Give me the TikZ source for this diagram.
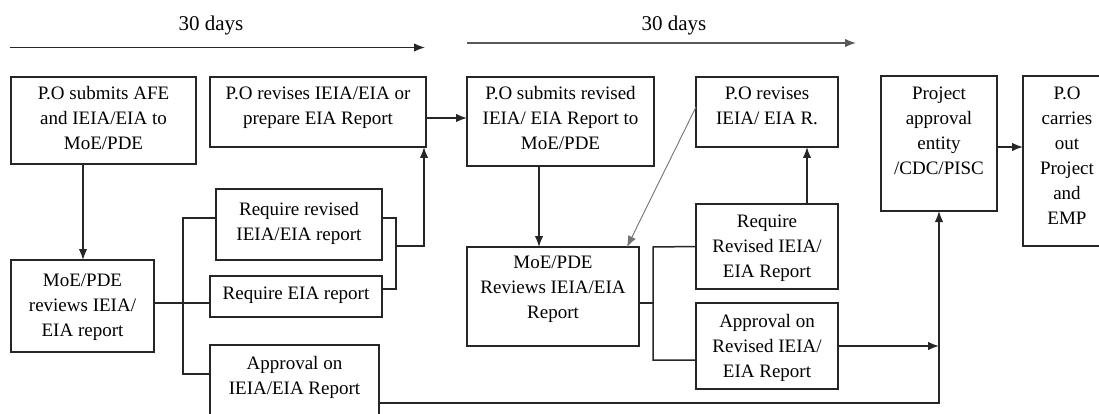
\documentclass[tikz,border=0pt]{standalone}
\usepackage{fontspec}
\setmainfont{Liberation Serif}
\usetikzlibrary{arrows.meta,calc}
\newcommand\mkbox[5]{\node[box, minimum width={#4-#2}, minimum height={#5-#3}] (#1) at ({(#2+#4)/2},{(#3+#5)/2}) {};}
\begin{document}
\begin{tikzpicture}[x=1pt,y=-1pt,
  box/.style={draw=black!85, line width=1.6pt, inner sep=0pt, outer sep=0pt, rectangle},
  txt/.style={font=\fontsize{19}{25}\selectfont, align=center, inner sep=0pt, anchor=north},
  lbl/.style={font=\fontsize{21}{25}\selectfont, inner sep=0pt},
  conn/.style={draw=black!85, line width=1.5pt},
  arr/.style={conn, -{Latex[length=11pt,width=8.5pt]}},
  thin/.style={draw=black!55, line width=0.9pt, -{Latex[length=11pt,width=8.5pt]}}]
\useasboundingbox (0,0) rectangle (1099,414);
\clip (0,0) rectangle (1099,414);
% boxes
\mkbox{A}{11}{77}{196}{164}
\mkbox{B}{210}{77}{426}{147}
\mkbox{C}{467}{77}{654}{166}
\mkbox{D}{696}{77}{838}{147}
\mkbox{E}{881}{76}{997}{211}
\mkbox{F}{1023}{76}{1111}{246}
\mkbox{G}{11}{260}{154}{352}
\mkbox{H}{216}{189}{382}{260}
\mkbox{I}{210}{276}{382}{317}
\mkbox{J}{210}{345}{379}{440}
\mkbox{K}{467}{247}{639}{346}
\mkbox{L}{696}{204}{838}{289}
\mkbox{M}{696}{303}{838}{389}
% texts
\node[txt] (At) at ($(A.north)+(0,9.5)$) {P.O submits AFE\\and IEIA/EIA to\\MoE/PDE};
\node[txt] (Bt) at ($(B.north)+(0,9.5)$) {P.O revises IEIA/EIA or\\prepare EIA Report};
\node[txt] (Ct) at ($(C.north)+(0,9.5)$) {P.O submits revised\\IEIA/ EIA Report to\\MoE/PDE};
\node[txt] (Dt) at ($(D.north)+(0,9.5)$) {P.O revises\\IEIA/ EIA R.};
\node[txt] (Et) at ($(E.north)+(0,10.5)$) {Project\\approval\\entity\\/CDC/PISC};
\node[txt] (Ft) at ($(F.north)+(0,10.5)$) {P.O\\carries\\out\\Project\\and\\EMP};
\node[txt] (Gt) at ($(G.north)+(0,13.5)$) {MoE/PDE\\reviews IEIA/\\EIA report};
\node[txt] (Ht) at ($(H.north)+(0,13.5)$) {Require revised\\IEIA/EIA report};
\node[txt] (It) at ($(I.north)+(0,10.5)$) {Require EIA report};
\node[txt] (Jt) at ($(J.north)+(0,11.5)$) {Approval on\\IEIA/EIA Report};
\node[txt] (Kt) at ($(K.north)+(0,8.5)$) {MoE/PDE\\Reviews IEIA/EIA\\Report};
\node[txt] (Lt) at ($(L.north)+(0,10.5)$) {Require\\Revised IEIA/\\EIA Report};
\node[txt] (Mt) at ($(M.north)+(0,11.5)$) {Approval on\\Revised IEIA/\\EIA Report};
% top timeline arrows
\coordinate (t1s) at (10,47.5);
\coordinate (t1e) at (425,47.5);
\coordinate (t2s) at (467,43);
\coordinate (t2e) at (856,43);
\draw[arr, line width=1.6pt] (t1s) -- (t1e);
\draw[arr, line width=1.6pt, draw=black!65] (t2s) -- (t2e);
\node[lbl] (d1) at (211,25) {30 days};
\node[lbl] (d2) at (674,25) {30 days};
% helper coordinates
\coordinate (xa) at (83,0);
\coordinate (y303) at (0,303);
\coordinate (br1) at (183,218);
\coordinate (br2) at (183,374);
\coordinate (rr1) at (396,218);
\coordinate (rr2) at (396,289);
\coordinate (rr3) at (396,246);
\coordinate (y118) at (0,118);
\coordinate (xc) at (539,0);
\coordinate (y107) at (0,107);
\coordinate (kb1) at (653,247);
\coordinate (kb2) at (653,360);
\coordinate (xl) at (807,0);
\coordinate (y403) at (0,403);
\coordinate (y147) at (0,147);
% connectors
\draw[arr] (A.south -| xa) -- (G.north -| xa);
\draw[conn] (G.east |- y303) -- (I.west |- y303);
\draw[conn] (H.west |- br1) -- (br1) -- (br2) -- (J.west |- br2);
\draw[conn] (H.east |- br1) -- (rr1) -- (rr2) -- (I.east |- rr2);
\draw[arr] (rr3) -| ($(B.south east)+(-2,0)$);
\draw[arr] (B.east |- y118) -- (C.west |- y118);
\draw[arr] (C.south -| xc) -- (K.north -| xc);
\draw[thin] (D.west |- y107) -- ($(K.north east)+(-12,0)$);
\draw[conn] (K.east |- y303) -- (kb1 |- y303);
\draw[conn] (L.west) -- (kb1) -- (kb2) -- (M.west |- kb2);
\draw[arr] (L.north -| xl) -- (D.south -| xl);
\draw[arr] (M.east) -- (M.east -| E.south);
\draw[arr] (J.east |- y403) -| (E.south);
\draw[arr] (E.east |- y147) -- (F.west |- y147);
\end{tikzpicture}
\end{document}
